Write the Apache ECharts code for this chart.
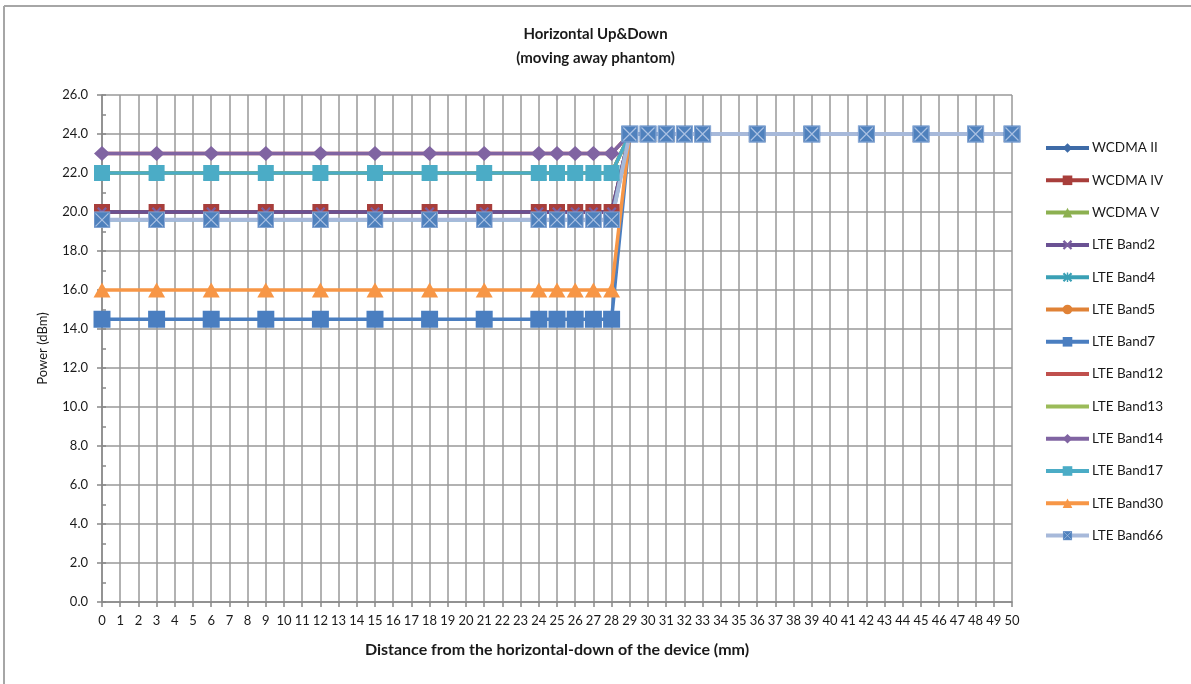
<!DOCTYPE html>
<html>
<head>
<meta charset="utf-8">
<title>Horizontal Up&amp;Down</title>
<script src="https://cdn.jsdelivr.net/npm/echarts@6/dist/echarts.min.js"></script>
<style>
  html, body { margin: 0; padding: 0; background: #fff; }
  #chart { width: 1191px; height: 684px; }
</style>
</head>
<body>
<div id="chart"></div>
<script>
// Tick labels of the distance axis (mm)
const distanceTicks = ['0','1','2','3','4','5','6','7','8','9','10','11','12','13','14','15','16','17','18','19','20',
  '21','22','23','24','25','26','27','28','29','30','31','32','33','34','35','36','37','38','39','40','41','42','43',
  '44','45','46','47','48','49','50'];

// Distances (mm) at which power was measured
const positions = [0, 3, 6, 9, 12, 15, 18, 21, 24, 25, 26, 27, 28, 29, 30, 31, 32, 33, 36, 39, 42, 45, 48, 50];

// Measured power (dBm) per band, one value per position
const wcdmaII   = [20, 20, 20, 20, 20, 20, 20, 20, 20, 20, 20, 20, 20, 24, 24, 24, 24, 24, 24, 24, 24, 24, 24, 24];
const wcdmaIV   = [20, 20, 20, 20, 20, 20, 20, 20, 20, 20, 20, 20, 20, 24, 24, 24, 24, 24, 24, 24, 24, 24, 24, 24];
const wcdmaV    = [22, 22, 22, 22, 22, 22, 22, 22, 22, 22, 22, 22, 22, 24, 24, 24, 24, 24, 24, 24, 24, 24, 24, 24];
const lteBand2  = [20, 20, 20, 20, 20, 20, 20, 20, 20, 20, 20, 20, 20, 24, 24, 24, 24, 24, 24, 24, 24, 24, 24, 24];
const lteBand4  = [19.6, 19.6, 19.6, 19.6, 19.6, 19.6, 19.6, 19.6, 19.6, 19.6, 19.6, 19.6, 19.6, 24, 24, 24, 24, 24, 24, 24, 24, 24, 24, 24];
const lteBand5  = [22, 22, 22, 22, 22, 22, 22, 22, 22, 22, 22, 22, 22, 24, 24, 24, 24, 24, 24, 24, 24, 24, 24, 24];
const lteBand7  = [14.5, 14.5, 14.5, 14.5, 14.5, 14.5, 14.5, 14.5, 14.5, 14.5, 14.5, 14.5, 14.5, 24, 24, 24, 24, 24, 24, 24, 24, 24, 24, 24];
const lteBand12 = [23, 23, 23, 23, 23, 23, 23, 23, 23, 23, 23, 23, 23, 24, 24, 24, 24, 24, 24, 24, 24, 24, 24, 24];
const lteBand13 = [22, 22, 22, 22, 22, 22, 22, 22, 22, 22, 22, 22, 22, 24, 24, 24, 24, 24, 24, 24, 24, 24, 24, 24];
const lteBand14 = [23, 23, 23, 23, 23, 23, 23, 23, 23, 23, 23, 23, 23, 24, 24, 24, 24, 24, 24, 24, 24, 24, 24, 24];
const lteBand17 = [22, 22, 22, 22, 22, 22, 22, 22, 22, 22, 22, 22, 22, 24, 24, 24, 24, 24, 24, 24, 24, 24, 24, 24];
const lteBand30 = [16, 16, 16, 16, 16, 16, 16, 16, 16, 16, 16, 16, 16, 24, 24, 24, 24, 24, 24, 24, 24, 24, 24, 24];
const lteBand66 = [19.6, 19.6, 19.6, 19.6, 19.6, 19.6, 19.6, 19.6, 19.6, 19.6, 19.6, 19.6, 19.6, 24, 24, 24, 24, 24, 24, 24, 24, 24, 24, 24];

// Y axis range (dBm)
const powerMin = 0;
const powerMax = 26;
const powerStep = 2;

// Marker shapes
const xMark = 'path://M0 1.6 L1.6 0 L5 3.4 L8.4 0 L10 1.6 L6.6 5 L10 8.4 L8.4 10 L5 6.6 L1.6 10 L0 8.4 L3.4 5 Z';
const starMark = xMark + ' M4.25 0 L5.75 0 L5.75 10 L4.25 10 Z';
// filled blue box crossed by a light X
const boxXSvg = "<svg xmlns='http://www.w3.org/2000/svg' width='34' height='34' viewBox='0 0 34 34'>" +
  "<rect x='1' y='1' width='32' height='32' fill='#4F81BD' stroke='#8FAAD6' stroke-width='2'/>" +
  "<path d='M4 4 L30 30 M30 4 L4 30' stroke='#A9C0E2' stroke-width='2.4'/></svg>";
const boxXMark = 'image://data:image/svg+xml;charset=utf-8,' + encodeURIComponent(boxXSvg);

const FONT = 'Lato, "Liberation Sans", sans-serif';

function pairs(values) {
  return positions.map((p, i) => [p, values[i]]);
}

function band(name, values, lineColor, markColor, symbol, size, width) {
  return {
    name: name,
    type: 'line',
    data: pairs(values),
    symbol: symbol,
    symbolSize: size,
    showSymbol: symbol !== 'none',
    lineStyle: { color: lineColor, width: width },
    itemStyle: { color: markColor, borderWidth: 0 },
    emphasis: { disabled: true },
    animation: false
  };
}

const series = [
  band('WCDMA II',    wcdmaII,   '#3E6BA7', '#3E6BA7', 'diamond', [12, 14], 3.5),
  band('WCDMA IV',    wcdmaIV,   '#A83E3B', '#A83E3B', 'rect', 16, 3.5),
  band('WCDMA V',     wcdmaV,    '#8CB050', '#8CB050', 'triangle', [16, 14], 3.5),
  band('LTE Band2',   lteBand2,  '#6A5193', '#7B5FA0', xMark, 10, 3.5),
  band('LTE Band4',   lteBand4,  '#3AA0B5', '#3AA0B5', starMark, 10, 3.5),
  band('LTE Band5',   lteBand5,  '#E08236', '#E08236', 'circle', 12, 3.5),
  band('LTE Band7',   lteBand7,  '#4A7EC0', '#4A7EC0', 'rect', 17, 3.5),
  band('LTE Band12',  lteBand12, '#C0504D', '#C0504D', 'none', 0, 3.5),
  band('LTE Band13',  lteBand13, '#9BBB59', '#9BBB59', 'none', 0, 3.5),
  band('LTE Band14',  lteBand14, '#8064A2', '#8064A2', 'diamond', [16, 15], 3.5),
  band('LTE Band17',  lteBand17, '#4BACC6', '#4BACC6', 'rect', 16, 3.5),
  band('LTE Band30',  lteBand30, '#F79646', '#F79646', 'triangle', [17, 15], 3.5),
  band('LTE Band66',  lteBand66, '#A7B9DA', '#4F81BD', boxXMark, 17, 4)
];

// legend entries; bands drawn without markers get a plain line sample
const legendEntries = series.map(s => s.symbol === 'none'
  ? { name: s.name, itemStyle: { color: 'rgba(0,0,0,0)', borderWidth: 0 } }
  : { name: s.name });

const chart = echarts.init(document.getElementById('chart'), null, { renderer: 'canvas' });

chart.setOption({
  backgroundColor: '#ffffff',
  textStyle: { fontFamily: FONT },
  title: {
    text: 'Horizontal Up&Down\n(moving away phantom)',
    left: 'center',
    top: 17,
    textStyle: { fontFamily: FONT, fontSize: 15, fontWeight: 'bold', color: '#1a1a1a', lineHeight: 24 }
  },
  legend: {
    orient: 'vertical',
    left: 1044,
    top: 141,
    padding: 0,
    itemWidth: 43,
    itemHeight: 12,
    itemGap: 18.3,
    selectedMode: false,
    lineStyle: { width: 4 },
    textStyle: { fontFamily: FONT, fontSize: 13.5, color: '#1a1a1a', padding: [0, 0, 0, -2] },
    data: legendEntries
  },
  grid: { left: 102, right: 179, top: 95, bottom: 82, containLabel: false },
  xAxis: {
    type: 'category',
    data: distanceTicks,
    boundaryGap: false,
    name: 'Distance from the horizontal-down of the device (mm)',
    nameLocation: 'middle',
    nameGap: 40,
    nameTextStyle: { fontFamily: FONT, fontSize: 16, fontWeight: 'bold', color: '#1a1a1a' },
    axisLine: { show: true, lineStyle: { color: '#888', width: 1.5 } },
    axisTick: { show: true, interval: 0, length: 5, lineStyle: { color: '#888', width: 1.5 } },
    axisLabel: { interval: 0, margin: 12, fontFamily: FONT, fontSize: 13, color: '#1a1a1a' },
    splitLine: { show: true, interval: 0, lineStyle: { color: '#999', width: 1.5 } }
  },
  yAxis: [
    {
      type: 'value',
      min: powerMin,
      max: powerMax,
      interval: powerStep,
      name: 'Power (dBm)',
      nameLocation: 'middle',
      nameGap: 53,
      nameTextStyle: { fontFamily: FONT, fontSize: 13, color: '#1a1a1a' },
      axisLine: { show: true, lineStyle: { color: '#888', width: 1.5 } },
      axisTick: { show: true, length: 5, lineStyle: { color: '#888', width: 1.5 } },
      axisLabel: { margin: 14, fontFamily: FONT, fontSize: 13, color: '#1a1a1a', formatter: v => v.toFixed(1) },
      splitLine: { show: true, lineStyle: { color: '#999', width: 1.5 } }
    },
    {
      // minor ticks on the inner side of the power axis
      type: 'value',
      position: 'left',
      min: powerMin,
      max: powerMax,
      interval: powerStep / 2,
      axisLine: { show: false },
      axisTick: { show: true, inside: true, length: 4, lineStyle: { color: '#888', width: 1.5 } },
      axisLabel: { show: false },
      splitLine: { show: false }
    }
  ],
  graphic: [
    { type: 'line', shape: { x1: 4, y1: 6, x2: 1191, y2: 6 }, style: { stroke: '#a6a6a6', lineWidth: 2 }, silent: true },
    { type: 'line', shape: { x1: 4, y1: 6, x2: 4, y2: 684 }, style: { stroke: '#a6a6a6', lineWidth: 2 }, silent: true }
  ],
  series: series
});
</script>
</body>
</html>
